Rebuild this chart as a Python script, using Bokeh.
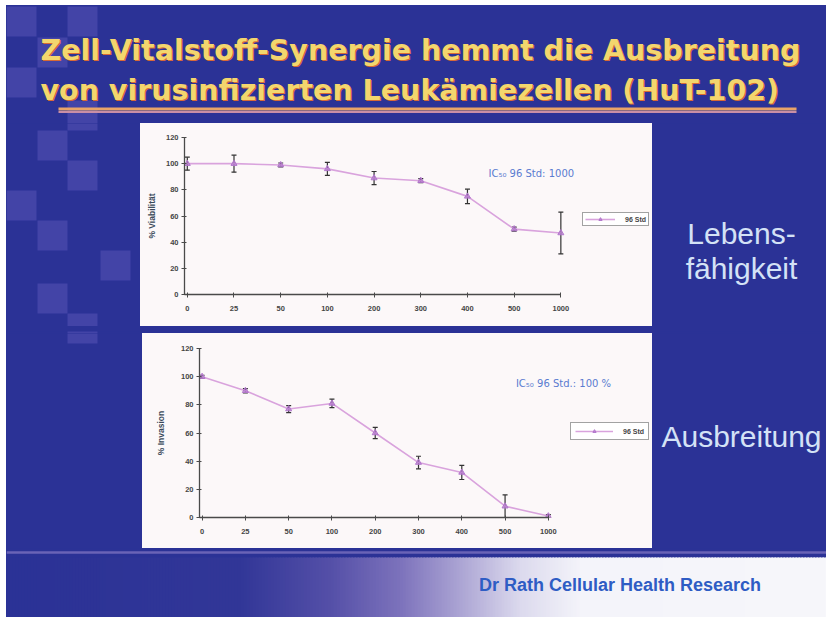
import numpy as np
from bokeh.plotting import figure
from bokeh.layouts import column, row
from bokeh.models import (Range1d, FixedTicker, ColumnDataSource, Whisker, TeeHead,
                          Legend, LegendItem, Label)
from bokeh.core.properties import value
from bokeh.embed import file_html
from bokeh.resources import INLINE

# ---------------- data ----------------
doses = ["0", "25", "50", "100", "200", "300", "400", "500", "1000"]
viab_mean = [100, 100, 99, 96, 89, 87, 75, 50, 47]
viab_err = [5, 6.5, 1.5, 5, 5, 1.5, 5.5, 1.5, 16]
inv_mean = [100, 90, 77, 81, 60, 39, 32, 8, 1]
inv_err = [1, 1.5, 2.5, 3, 4, 4.5, 5, 8, 1]
y_ticks = [0, 20, 40, 60, 80, 100, 120]
series_name = "96 Std"

title_line1 = "Zell-Vitalstoff-Synergie hemmt die Ausbreitung"
title_line2 = "von virusinfizierten Leukämiezellen (HuT-102)"
label_viab = ["Lebens-", "fähigkeit"]
label_inv = "Ausbreitung"
ic_viab = "IC₅₀ 96 Std:  1000"
ic_inv = "IC₅₀ 96 Std.: 100 %"
footer_text = "Dr Rath Cellular Health Research"

# ---------------- styles ----------------
BG = "#2b3296"
SQ = "#4848aa"
YEL = "#f3d66e"
SHADOW = "#d86a34"
BOX = "#fcf8f9"
LINE = "#d9a3dd"
MARK = "#b276cc"
AX = "#4a4a4a"
TXT = "#454545"
LBL = "#d4e2f6"

# decorative checker squares (x0, y0) in slide pixels, 30px each
squares = [(6, 6), (67, 6), (37, 37), (6, 67), (67, 100), (37, 130), (67, 160),
           (6, 190), (37, 220), (100, 250), (37, 283), (67, 313)]

X0, X1 = 6, 826


def no_align(p):
    try:
        p.frame_align = False
    except Exception:
        pass


def bg_fig(x0, x1, y0, y1, with_squares=True):
    p = figure(width=int(x1 - x0), height=int(y1 - y0),
               x_range=Range1d(x0, x1), y_range=Range1d(y1, y0),
               output_backend="svg", toolbar_location=None,
               x_axis_location=None, y_axis_location=None, min_border=0,
               background_fill_color=BG, border_fill_color=BG, outline_line_color=None,
               styles={"background-color": BG})
    no_align(p)
    p.grid.visible = False
    if with_squares:
        p.quad(left=[s[0] for s in squares], right=[s[0] + 30 for s in squares],
               top=[s[1] for s in squares], bottom=[s[1] + 30 for s in squares],
               fill_color=SQ, line_color=None, fill_alpha=0.85)
    return p


# ---------------- title ----------------
pt = bg_fig(X0, X1, 5, 123)
for txt, yb in ((title_line1, 50), (title_line2, 90)):
    pt.text(x=[41], y=[yb + 1], text=[txt], text_font=value("DejaVu Sans"),
            text_font_style="bold", text_font_size="28.5px", text_color=SHADOW,
            text_baseline="alphabetic", text_align="left")
    pt.text(x=[40], y=[yb], text=[txt], text_font=value("DejaVu Sans"),
            text_font_style="bold", text_font_size="28.5px", text_color=YEL,
            text_baseline="alphabetic", text_align="left")
pt.line(x=[58, 796], y=[108.5, 108.5], line_color="#e9a468", line_width=3)
pt.line(x=[58, 796], y=[111.5, 111.5], line_color="#c98fa6", line_width=2)


# ---------------- charts ----------------
def chart(width, height, mb_left, mb_top, mb_bottom, x_end, means, errs,
          ylabel, ic_text, ic_x, ic_y, label_standoff, leg_loc, leg_glyph, leg_pad):
    p = figure(width=width, height=height, x_range=Range1d(-0.06, x_end),
               y_range=Range1d(0, 120), output_backend="svg", toolbar_location=None,
               min_border_left=mb_left, min_border_right=2,
               min_border_top=mb_top, min_border_bottom=mb_bottom,
               background_fill_color=BOX, border_fill_color=BOX, outline_line_color=None,
               styles={"background-color": BOX})
    no_align(p)
    p.grid.visible = False
    src = ColumnDataSource(dict(
        x=list(range(len(doses))), y=means,
        upper=[m + e for m, e in zip(means, errs)],
        lower=[m - e for m, e in zip(means, errs)]))
    r_line = p.line("x", "y", source=src, line_color=LINE, line_width=1.6)
    r_pts = p.scatter("x", "y", source=src, marker="triangle", size=6,
                      fill_color=MARK, line_color=MARK, fill_alpha=0.7)
    p.add_layout(Whisker(source=src, base="x", upper="upper", lower="lower",
                         line_color="#333333", line_width=1.2,
                         upper_head=TeeHead(size=5, line_color="#333333", line_width=1.2),
                         lower_head=TeeHead(size=5, line_color="#333333", line_width=1.2)))
    p.xaxis.ticker = FixedTicker(ticks=list(range(len(doses))))
    p.xaxis.major_label_overrides = {i: d for i, d in enumerate(doses)}
    p.xaxis.bounds = (-0.06, len(doses) - 1)
    p.yaxis.ticker = FixedTicker(ticks=y_ticks)
    for ax in (p.xaxis, p.yaxis):
        ax.axis_line_color = AX
        ax.axis_line_width = 1.3
        ax.major_tick_line_color = AX
        ax.major_tick_in = 2
        ax.major_tick_out = 3
        ax.minor_tick_line_color = None
        ax.major_label_text_font = "Liberation Sans"
        ax.major_label_text_font_size = "7.5px"
        ax.major_label_text_color = TXT
        ax.major_label_text_font_style = "bold"
    p.xaxis.major_label_standoff = 8
    p.yaxis.major_label_standoff = 3
    p.yaxis.axis_label = ylabel
    p.yaxis.axis_label_text_font = "Liberation Sans"
    p.yaxis.axis_label_text_font_size = "8.5px"
    p.yaxis.axis_label_text_font_style = "bold"
    p.yaxis.axis_label_text_color = "#3a4a5a"
    p.yaxis.axis_label_standoff = label_standoff
    p.add_layout(Label(x=ic_x, y=ic_y, text=ic_text, text_font="DejaVu Sans",
                       text_font_size="10px", text_color="#5a7bd0", text_baseline="middle"))
    leg = Legend(items=[LegendItem(label=series_name, renderers=[r_line, r_pts])],
                 location=leg_loc, margin=0, padding=leg_pad, spacing=0,
                 glyph_width=leg_glyph, glyph_height=8, label_standoff=10,
                 label_text_font="Liberation Sans", label_text_font_size="7px",
                 label_text_font_style="bold", label_text_color=TXT,
                 label_height=8, border_line_color="#454545", border_line_width=1.6,
                 background_fill_color="#ffffff")
    p.add_layout(leg)
    return p


p1 = chart(512, 203, 44, 14, 32, 9.92, viab_mean, viab_err, "% Viabilität",
           ic_viab, 6.45, 92.6, 6, (398, 68), 30, 2)
p2 = chart(510, 215, 57, 15, 31, 10.36, inv_mean, inv_err, "% Invasion",
           ic_inv, 7.25, 95.3, 12, (371, 77), 38, 4)

# ---------------- side panels ----------------
l1 = bg_fig(X0, 140, 123, 326)
r1 = bg_fig(652, X1, 123, 326, with_squares=False)
r1.text(x=[741, 741], y=[233, 268], text=label_viab, text_font=value("Liberation Sans"),
        text_font_size="30px", text_color=LBL, text_align="center", text_baseline="middle")

gap = bg_fig(X0, X1, 326, 333)

l2 = bg_fig(X0, 142, 333, 548)
r2 = bg_fig(652, X1, 333, 548, with_squares=False)
r2.text(x=[741], y=[436], text=[label_inv], text_font=value("Liberation Sans"),
        text_font_size="30px", text_color=LBL, text_align="center", text_baseline="middle")

# ---------------- footer ----------------
pf = bg_fig(X0, X1, 548, 617, with_squares=False)
stops_x = [6, 240, 330, 400, 460, 520, 580, 826]
stops_c = [(43, 50, 150), (50, 55, 152), (85, 80, 168), (125, 115, 188),
           (172, 165, 212), (220, 218, 238), (244, 244, 250), (247, 247, 251)]
xs = np.arange(6, 826, 3)
cols = []
for xv in xs:
    c = [int(np.interp(xv + 1.5, stops_x, [s[k] for s in stops_c])) for k in range(3)]
    cols.append("#%02x%02x%02x" % tuple(c))
pf.quad(left=xs, right=xs + 4.5, top=557, bottom=617, fill_color=cols, line_color=None)
pf.line(x=[6, 826], y=[552, 552], line_color="#6a63b6", line_width=2.5)
pf.text(x=[619.5], y=[584], text=[footer_text], text_font=value("Liberation Sans"),
        text_font_style="bold", text_font_size="18px", text_color="#2e5cc4",
        text_align="center", text_baseline="middle")

layout = column(pt,
                row(l1, p1, r1, styles={"background-color": BG}),
                gap,
                row(l2, p2, r2, styles={"background-color": BG}),
                pf, margin=(5, 0, 0, 6), styles={"background-color": BG})

with open("out.html", "w") as f:
    f.write(file_html(layout, INLINE))
